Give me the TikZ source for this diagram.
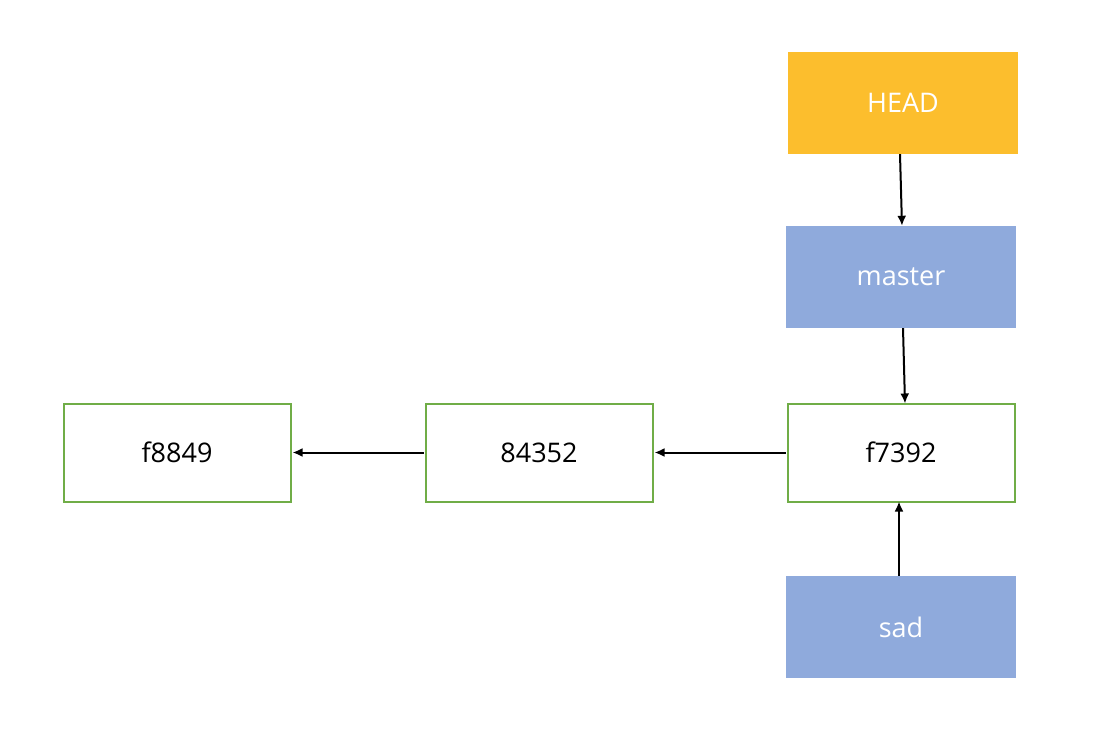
\documentclass[tikz,border=0pt]{standalone}
\usepackage{fontspec}
\setmainfont{Open Sans}
\usetikzlibrary{arrows.meta}
\definecolor{headc}{RGB}{252,190,45}
\definecolor{branchc}{RGB}{143,170,220}
\definecolor{commitc}{RGB}{112,173,71}
\tikzset{
  refbox/.style={draw=none, minimum width=230pt, minimum height=102pt, inner sep=0pt, text=white, font=\fontsize{27}{32}\selectfont},
  commitbox/.style={draw=commitc, line width=2pt, fill=white, minimum width=227pt, minimum height=98pt, inner sep=0pt, text=black, font=\fontsize{27}{32}\selectfont},
  link/.style={line width=2pt, -{Latex[length=10pt,width=9pt]}},
}
\begin{document}
\begin{tikzpicture}[x=1pt,y=-1pt]
\useasboundingbox (0,0) rectangle (1106,730);
\node[refbox, fill=headc] (head) at (903,103) {HEAD};
\node[refbox, fill=branchc] (master) at (901,277) {master};
\node[refbox, fill=branchc] (sad) at (901,627) {sad};
\node[commitbox] (c3) at (901,452.5) {f7392};
\node[commitbox] (c2) at (539,452.5) {84352};
\node[commitbox] (c1) at (177,452.5) {f8849};
\draw[link] ([xshift=-3pt]head.south) -- ([xshift=1pt]master.north);
\draw[link] ([xshift=2pt]master.south) -- ([xshift=4pt,yshift=-1pt]c3.north);
\draw[link] ([xshift=-2pt]sad.north) -- ([xshift=-2pt,yshift=1pt]c3.south);
\draw[link] ([xshift=-1pt]c3.west) -- ([xshift=1pt]c2.east);
\draw[link] ([xshift=-1pt]c2.west) -- ([xshift=1pt]c1.east);
\end{tikzpicture}
\end{document}
